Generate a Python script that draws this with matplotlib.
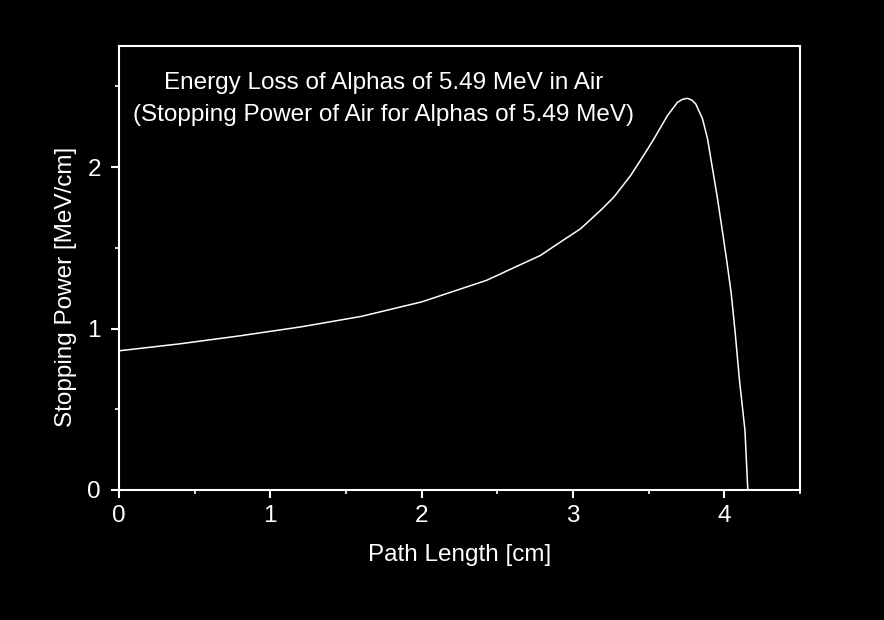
import matplotlib
matplotlib.use("Agg")
import matplotlib.pyplot as plt
from matplotlib.ticker import MultipleLocator

# values
path_cm = [0.0, 0.4, 0.8, 1.2, 1.6, 2.0, 2.43, 2.785, 2.917, 3.05, 3.182,
           3.27, 3.381, 3.48, 3.535, 3.624, 3.69, 3.725, 3.756, 3.785, 3.811,
           3.856, 3.889, 3.922, 3.955, 3.988, 4.017, 4.045, 4.07, 4.10,
           4.136, 4.155]
stopping_power = [0.862, 0.905, 0.955, 1.01, 1.075, 1.165, 1.299, 1.453,
                  1.536, 1.618, 1.732, 1.814, 1.948, 2.092, 2.175, 2.319,
                  2.401, 2.42, 2.426, 2.415, 2.391, 2.298, 2.175, 1.989,
                  1.804, 1.597, 1.412, 1.22, 0.99, 0.68, 0.371, 0.0]

title_lines = ["Energy Loss of Alphas of 5.49 MeV in Air",
               "(Stopping Power of Air for Alphas of 5.49 MeV)"]

plt.rcParams['font.family'] = ['Liberation Sans', 'DejaVu Sans']
fs = 17.5

fig = plt.figure(figsize=(8.84, 6.2), dpi=100, facecolor='black')
ax = fig.add_axes([0.1346, 0.2097, 0.7704, 0.7161], facecolor='black')

ax.plot(path_cm, stopping_power, color='white', lw=1.1)

ax.set_xlim(0, 4.5)
ax.set_ylim(0, 2.75)
ax.xaxis.set_major_locator(MultipleLocator(1))
ax.xaxis.set_minor_locator(MultipleLocator(0.5))
ax.yaxis.set_major_locator(MultipleLocator(1))
ax.yaxis.set_minor_locator(MultipleLocator(0.5))

for s in ax.spines.values():
    s.set_color('white')
    s.set_linewidth(1.5)

ax.tick_params(which='major', direction='out', length=6, width=1.5,
               colors='white', labelsize=fs)
ax.tick_params(which='minor', direction='out', length=3, width=1.2,
               colors='white')
ax.tick_params(axis='x', which='major', pad=5)
ax.tick_params(axis='y', which='major', pad=7)

ax.set_xlabel("Path Length [cm]", color='white', fontsize=fs, labelpad=12)
ax.set_ylabel("Stopping Power [MeV/cm]", color='white', fontsize=fs)
ax.yaxis.set_label_coords(-0.061, 0.457)

ax.text(0.388, 0.881, "\n".join(title_lines), transform=ax.transAxes,
        ha='center', va='center', color='white', fontsize=fs, linespacing=1.6)

fig.savefig("out.png", dpi=100, facecolor='black')
